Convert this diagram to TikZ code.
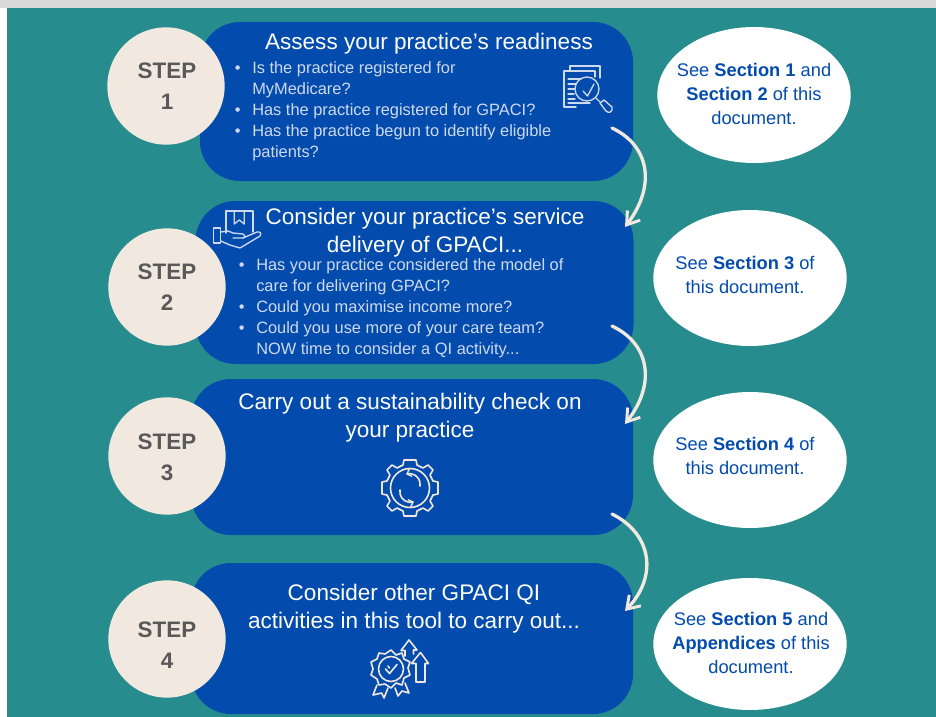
\documentclass[tikz,border=0pt]{standalone}
\usepackage{fontspec}
\setmainfont{Liberation Sans}
\usetikzlibrary{arrows.meta,shapes.geometric}
\definecolor{teal1}{HTML}{278C8E}
\definecolor{blue1}{HTML}{034BAC}
\definecolor{cream}{HTML}{F1E9DF}
\definecolor{pale}{HTML}{CFDAEF}
\definecolor{stepgrey}{HTML}{595959}
\definecolor{bandgrey}{HTML}{D9D9D9}
\newcommand{\bul}{\makebox[15pt][l]{\hspace{2pt}•}}
\newcommand{\nob}{\makebox[15pt][l]{}}
\tikzset{
  x=0.75pt,y=-0.75pt,
  panel/.style={draw=none,fill=blue1,rounded corners=30pt,inner sep=0pt,outer sep=0pt},
  stepdisc/.style={circle,fill=cream,inner sep=0pt,minimum size=88pt},
  stepword/.style={align=center,text=stepgrey,font=\fontsize{16.8}{23}\selectfont\bfseries},
  note/.style={ellipse,fill=white,inner sep=0pt,minimum width=145pt,minimum height=102pt,align=center},
  notetext/.style={align=center,text=blue1,font=\fontsize{13.7}{18}\selectfont},
  headtext/.style={align=center,text=white,font=\fontsize{16.9}{21}\selectfont},
  bullettext/.style={align=left,anchor=north west,inner sep=0pt,text=pale,font=\fontsize{12.3}{15.75}\selectfont},
  flow/.style={draw=cream,line width=2.5pt,-{Straight Barb[length=9pt,width=12pt,line width=2.2pt]},line cap=round},
  iconline/.style={draw=cream,line width=1.2pt,line join=round,line cap=round},
  iconpale/.style={draw=pale,line width=1pt,line join=round,line cap=round},
}
\begin{document}
\begin{tikzpicture}
\useasboundingbox (0,0) rectangle (936,717);
\fill[white] (0,0) rectangle (936,717);
\fill[teal1] (7,0) rectangle (936,717);
\fill[bandgrey] (0,0) rectangle (936,8);

% panels
\node[panel,minimum width=324.75pt,minimum height=119.25pt] (p1) at (416.5,101.5) {};
\node[panel,minimum width=328.5pt,minimum height=122.25pt] (p2) at (414.5,282.5) {};
\node[panel,minimum width=331.5pt,minimum height=117pt] (p3) at (412,457) {};
\node[panel,minimum width=331.5pt,minimum height=113.25pt] (p4) at (412,638.5) {};

% step discs
\node[stepdisc] (s1) at (166,86) {};
\node[stepdisc] (s2) at (167,287) {};
\node[stepdisc] (s3) at (167,456) {};
\node[stepdisc] (s4) at (167,639) {};
\node[stepword] (w1) at (167,86) {STEP\\1};
\node[stepword] (w2) at (167,287) {STEP\\2};
\node[stepword] (w3) at (167,457) {STEP\\3};
\node[stepword] (w4) at (167,645) {STEP\\4};

% notes
\node[note] (n1) at (754,95) {};
\node[note] (n2) at (750,278) {};
\node[note] (n3) at (750,460) {};
\node[note,minimum height=99pt] (n4) at (750,644) {};
\node[notetext] (nt1) at (754,94) {See \textbf{Section 1} and\\\textbf{Section 2} of this\\document.};
\node[notetext] (nt2) at (745,275) {See \textbf{Section 3} of\\this document.};
\node[notetext] (nt3) at (745,456) {See \textbf{Section 4} of\\this document.};
\node[notetext] (nt4) at (751,643) {See \textbf{Section 5} and\\\textbf{Appendices} of this\\document.};

% headings
\node[headtext] (h1) at (429,43.5) {Assess your practice’s readiness};
\node[headtext] (h2) at (425,232.5) {Consider your practice’s service\\delivery of GPACI...};
\node[headtext] (h3) at (410,417.5) {Carry out a sustainability check on\\your practice};
\node[headtext] (h4) at (414,608.5) {Consider other GPACI QI\\activities in this tool to carry out...};

% bullet lists
\node[bullettext] (b1) at (232,61.5) {\bul Is the practice registered for\\\nob MyMedicare?\\\bul Has the practice registered for GPACI?\\\bul Has the practice begun to identify eligible\\\nob patients?};
\node[bullettext] (b2) at (236,258) {\bul Has your practice considered the model of\\\nob care for delivering GPACI?\\\bul Could you maximise income more?\\\bul Could you use more of your care team?\\\nob NOW time to consider a QI activity...};

% connectors
\coordinate (a1s) at (612,128);
\coordinate (a1e) at (625,227);
\coordinate (a2s) at (612,326);
\coordinate (a2e) at (625,424);
\coordinate (a3s) at (612,514);
\coordinate (a3e) at (625,611);
\draw[flow] (a1s) .. controls (650,146) and (656,186) .. (a1e);
\draw[flow] (a2s) .. controls (650,344) and (656,384) .. (a2e);
\draw[flow] (a3s) .. controls (652,534) and (658,576) .. (a3e);

% icon 1: document and magnifier
\draw[iconpale] (570,71) -- (570,66) -- (600,66) -- (600,78);
\draw[iconpale] (576,107) -- (564,107) -- (564,71) -- (595,71) -- (595,77);
\draw[iconpale] (568,79)--(581,79) (568,84)--(576,84) (568,89)--(575,89) (568,94)--(574,94) (568,99)--(575,99) (568,103)--(590,103);
\draw[iconpale] (587,89) circle (12);
\draw[iconpale] (583,91) -- (587.5,96) -- (594,84);
\draw[iconpale] (596,98) -- (600,102);
\draw[iconpale] (600,103) -- (604,100) -- (612,107) .. controls (613,112) and (609,114) .. (606,111) -- cycle;

% icon 2: hand and parcel
\draw[iconpale] (226,233) -- (226,211) -- (253,211) -- (253,232);
\draw[iconpale] (234.3,211) -- (234.3,224) -- (239.3,220) -- (244.3,224) -- (244.3,211);
\draw[iconpale] (213.3,228) rectangle (220.7,243);
\draw[iconpale] (220.7,232) -- (228,231) -- (233,233) -- (243,234) .. controls (246,236) and (245,238) .. (243,238) -- (233,238);
\draw[iconpale] (243,238) -- (257,232) .. controls (260,231) and (262,234) .. (260,236) -- (240,248) -- (230,245) -- (220.7,241);

% icon 3: gear with sync arrows
\draw[iconline] plot[smooth cycle,tension=0] coordinates {
 (410,460) (416,460) (417,465) (423,468) (428,465) (433,470) (430,475) (433,481) (438,482) (438,494) (433,495) (430,501) (433,506) (428,511) (423,508) (417,511) (416,516) (404,516) (403,511) (397,508) (392,511) (387,506) (390,501) (387,495) (382,494) (382,482) (387,481) (390,475) (387,470) (392,465) (397,468) (403,465) (404,460)};
\draw[iconline] (410,488) circle (19.5);
\draw[iconline,-{Straight Barb[length=3pt,width=6pt,line width=1pt]}] (400,490) arc[start angle=190,end angle=70,radius=10.5] ;
\draw[iconline,-{Straight Barb[length=3pt,width=6pt,line width=1pt]}] (420,486) arc[start angle=10,end angle=-110,radius=10.5];

% icon 4: badge with arrows
\draw[iconline] plot[smooth cycle,tension=0] coordinates {
 (391,650) (396,655) (402,653) (404,659) (410,662) (408,668) (410,675) (404,678) (402,685) (396,683) (391,688) (385,684) (379,685) (377,679) (371,675) (373,669) (371,662) (377,659) (379,653) (385,654)};
\draw[iconline] (391,669) circle (12.5);
\draw[iconline] (385.5,669) -- (389.5,673.5) -- (397,664.5) (388,666) -- (389.5,668);
\draw[iconline] (377,685) -- (373,695) -- (381.7,693) -- (384,698) -- (388,688);
\draw[iconline] (395,688) -- (398,696) -- (402,691) -- (409,693) -- (405,683);
\draw[iconline] (416,682) -- (416,663.5) -- (411.5,663.5) -- (420.5,652.5) -- (428.5,663.5) -- (425,663.5) -- (425,682) -- cycle;
\draw[iconline] (405,656) -- (405,650.5) -- (401,650.5) -- (409,640) -- (417,650) -- (413.5,650) -- (413.5,654);
\end{tikzpicture}
\end{document}
